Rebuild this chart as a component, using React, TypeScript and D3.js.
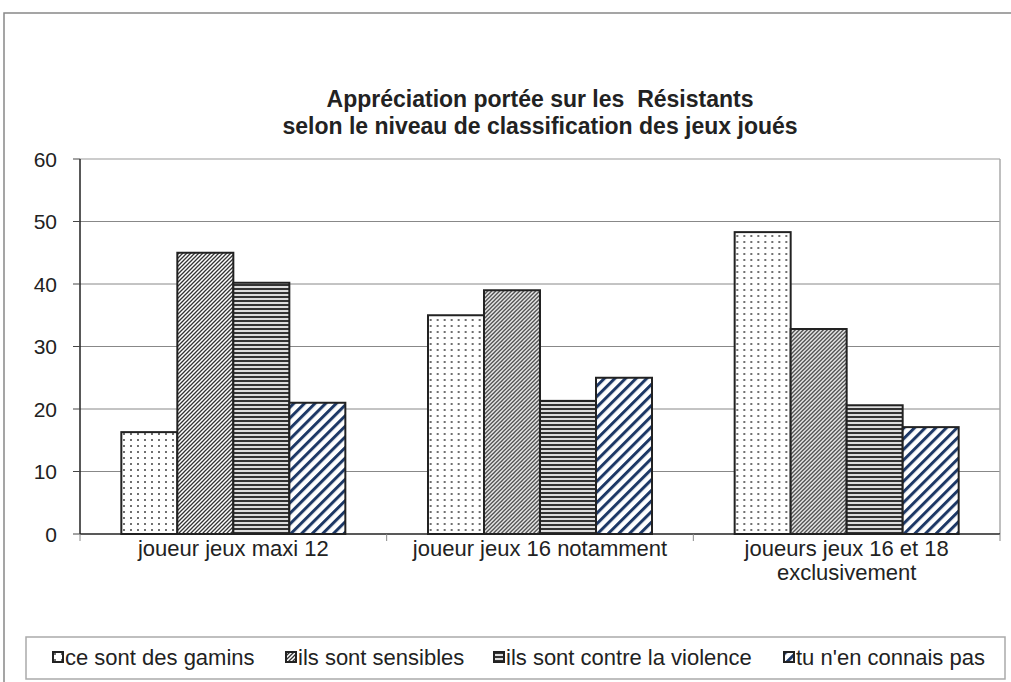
import React from "react";
import * as d3 from "d3";

const categories = [["joueur jeux maxi 12"], ["joueur jeux 16 notamment"], ["joueurs jeux 16 et 18", "exclusivement"]];
const seriesNames = ["ce sont des gamins", "ils sont sensibles", "ils sont contre la violence", "tu n'en connais pas"];
const gamins = [16.3, 35, 48.3];
const sensibles = [45, 39, 32.8];
const contreViolence = [40.2, 21.3, 20.6];
const connaisPas = [21, 25, 17.1];
const yTicks = [0, 10, 20, 30, 40, 50, 60];
const titleLines = ["Appréciation portée sur les  Résistants", "selon le niveau de classification des jeux joués"];

const series = [gamins, sensibles, contreViolence, connaisPas];
const patternIds = ["pDots", "pDiag", "pHoriz", "pNavy"];

const W = 1011, H = 682;
const plot = { left: 80, right: 1000, top: 159, bottom: 534 };
const FONT = "'Liberation Sans', Arial, Helvetica, sans-serif";

export default function App() {
  const y = d3.scaleLinear().domain([0, 60]).range([plot.bottom, plot.top]);
  const x0 = d3.scaleBand<number>().domain(d3.range(categories.length)).range([plot.left, plot.right]).paddingInner(0).paddingOuter(0);
  const x1 = d3.scaleBand<number>().domain(d3.range(series.length))
    .range([0, x0.bandwidth()]).paddingInner(0).paddingOuter(0.738);
  const legendX = [53, 286, 494, 784];
  return (
    <svg width={W} height={H} style={{ position: "absolute", left: 0, top: 0, background: "#fff" }} fontFamily={FONT}>
      <defs>
        <pattern id="pDots" width={7} height={6} patternUnits="userSpaceOnUse">
          <rect width={7} height={6} fill="#fff" />
          <circle cx={2} cy={2} r={0.95} fill="#333" />
        </pattern>
        <pattern id="pDiag" width={4} height={4} patternUnits="userSpaceOnUse">
          <rect width={4} height={4} fill="#fff" />
          <path d="M-1,1 l2,-2 M0,4 l4,-4 M3,5 l2,-2" stroke="#333" strokeWidth={1.3} />
        </pattern>
        <pattern id="pHoriz" width={4} height={4} patternUnits="userSpaceOnUse">
          <rect width={4} height={4} fill="#ddd" />
          <rect y={0} width={4} height={2} fill="#333" />
        </pattern>
        <pattern id="pNavy" width={7.5} height={7.5} patternUnits="userSpaceOnUse" patternTransform="rotate(45)">
          <rect width={7.5} height={7.5} fill="#fff" />
          <rect width={3} height={7.5} fill="#1d3866" />
        </pattern>
      </defs>
      {/* outer border */}
      <path d={`M4,${H} V13 H${W}`} fill="none" stroke="#888" strokeWidth={1.5} />
      {/* title */}
      {titleLines.map((t, i) => (
        <text key={i} x={540} y={107 + i * 27} textAnchor="middle" fontSize={23} fontWeight="bold" fill="#222" style={{ whiteSpace: "pre" }}>{t}</text>
      ))}
      {/* gridlines */}
      {yTicks.filter(t => t > 0).map(t => (
        <line key={t} x1={plot.left} x2={plot.right} y1={y(t)} y2={y(t)} stroke={t === 60 ? "#999" : "#888"} strokeWidth={1} />
      ))}
      <line x1={plot.right} x2={plot.right} y1={plot.top} y2={plot.bottom} stroke="#aaa" strokeWidth={1.5} />
      {/* bars */}
      {categories.map((_, ci) => (
        <g key={ci} transform={`translate(${x0(ci)},0)`}>
          {series.map((s, si) => (
            <rect key={si} x={x1(si)} y={y(s[ci])} width={x1.bandwidth()} height={y(0) - y(s[ci])}
              fill={`url(#${patternIds[si]})`} stroke="#222" strokeWidth={2} />
          ))}
        </g>
      ))}
      {/* axes */}
      <line x1={plot.left} x2={plot.left} y1={plot.top} y2={plot.bottom} stroke="#222" strokeWidth={1.5} />
      <line x1={plot.left} x2={plot.right} y1={plot.bottom} y2={plot.bottom} stroke="#222" strokeWidth={1.5} />
      {yTicks.map(t => (
        <g key={t}>
          <line x1={plot.left - 7} x2={plot.left} y1={y(t)} y2={y(t)} stroke="#444" strokeWidth={1} />
          <text x={57} y={y(t)} dy="0.36em" textAnchor="end" fontSize={21} fill="#222">{t}</text>
        </g>
      ))}
      {d3.range(categories.length + 1).map(i => {
        const xx = plot.left + i * x0.bandwidth();
        return <line key={i} x1={xx} x2={xx} y1={plot.bottom} y2={plot.bottom + 7} stroke="#888" strokeWidth={1} />;
      })}
      {categories.map((lines, ci) => (
        <text key={ci} textAnchor="middle" fontSize={22} fill="#222">
          {lines.map((l, li) => (
            <tspan key={li} x={(x0(ci) as number) + x0.bandwidth() / 2} y={556 + li * 24}>{l}</tspan>
          ))}
        </text>
      ))}
      {/* legend */}
      <rect x={26} y={637} width={979} height={42} fill="#fff" stroke="#aaa" strokeWidth={1.5} />
      {seriesNames.map((n, i) => (
        <g key={i} transform={`translate(${legendX[i]},652)`}>
          <rect x={0} y={0} width={10} height={10} fill={`url(#${patternIds[i]})`} stroke="#222" strokeWidth={2} />
          <text x={12} y={13} fontSize={22} fill="#222">{n}</text>
        </g>
      ))}
    </svg>
  );
}
